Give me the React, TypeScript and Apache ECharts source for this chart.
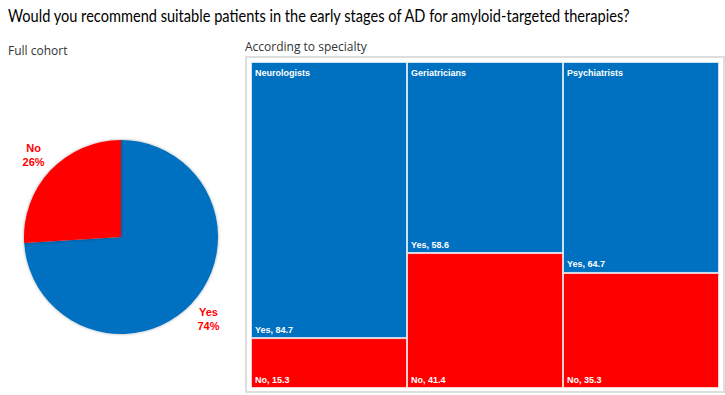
import React, { useEffect, useRef } from "react";
import * as echarts from "echarts";

const TITLE = "Would you recommend suitable patients in the early stages of AD for amyloid-targeted therapies?";
const pieNames = ["Yes", "No"];
const pieValues = [74, 26];
const specialties = ["Neurologists", "Geriatricians", "Psychiatrists"];
const yesValues = [84.7, 58.6, 64.7];
const noValues = [15.3, 41.4, 35.3];

const BLUE = "#0070C0";
const RED = "#FF0000";
const FONT = "'Liberation Sans', Arial, sans-serif";
const TITLE_FONT = "18px Lato, 'Liberation Sans', sans-serif";

function titleScale(): number {
  try {
    const c = document.createElement("canvas");
    const ctx = c.getContext("2d");
    if (!ctx) return 1;
    ctx.font = TITLE_FONT;
    const w = ctx.measureText(TITLE).width;
    return w > 0 ? 624 / w : 1;
  } catch (e) {
    return 1;
  }
}

export default function App() {
  const ref = useRef<HTMLDivElement>(null);
  useEffect(() => {
    if (!ref.current) return;
    const chart = echarts.init(ref.current, undefined, { renderer: "svg" });
    const pieData = pieNames.map((n, i) => ({
      name: n,
      value: pieValues[i],
      itemStyle: { color: i === 0 ? BLUE : RED },
    }));
    const s = titleScale();
    chart.setOption({
      animation: false,
      backgroundColor: "#ffffff",
      textStyle: { fontFamily: FONT },
      title: [
        {
          text: "Full cohort",
          left: 3,
          top: 39,
          textStyle: { fontFamily: "'Open Sans', sans-serif", fontSize: 12, fontWeight: "normal", color: "#333" },
        },
        {
          text: "According to specialty",
          left: 240,
          top: 35,
          textStyle: { fontFamily: "'Open Sans', sans-serif", fontSize: 12, fontWeight: "normal", color: "#333" },
        },
      ],
      graphic: [
        {
          type: "text",
          x: 8,
          y: 15,
          scaleX: s,
          style: {
            text: TITLE,
            font: TITLE_FONT,
            fill: "#000",
            textVerticalAlign: "middle",
          },
        },
        {
          type: "rect",
          shape: { x: 246, y: 57, width: 478, height: 335 },
          style: { fill: "none", stroke: "#dedede", lineWidth: 2 },
          z: 0,
        },
      ],
      grid: { left: 251, top: 62, width: 468, height: 326 },
      xAxis: {
        type: "category",
        data: specialties,
        show: false,
      },
      yAxis: { type: "value", min: 0, max: 100, show: false },
      series: [
        {
          type: "pie",
          center: [121, 237],
          radius: [0, 97],
          startAngle: 90,
          clockwise: true,
          data: pieData,
          label: { show: false },
          labelLine: { show: false },
          itemStyle: { shadowBlur: 3, shadowColor: "rgba(0,0,0,0.35)" },
          silent: true,
        },
        {
          type: "pie",
          center: [121, 237],
          radius: [97, 137],
          startAngle: 90,
          clockwise: true,
          data: pieData.map((d) => ({ ...d, itemStyle: { color: "rgba(0,0,0,0)" } })),
          label: {
            show: true,
            position: "inside",
            formatter: "{b}\n{c}%",
            color: RED,
            fontWeight: "bold",
            fontSize: 11,
            lineHeight: 14,
            fontFamily: FONT,
          },
          labelLine: { show: false },
          silent: true,
        },
        {
          type: "bar",
          name: "No",
          stack: "s",
          data: noValues,
          barWidth: "100%",
          barCategoryGap: "0%",
          itemStyle: { color: RED, borderColor: "rgba(255,255,255,0.6)", borderWidth: 1 },
          label: {
            show: true,
            position: "insideBottomLeft",
            distance: 4,
            formatter: (p: any) => "No, " + p.value,
            color: "#fff",
            fontWeight: "bold",
            fontSize: 9,
            fontFamily: FONT,
          },
        },
        {
          type: "bar",
          name: "Yes",
          stack: "s",
          data: yesValues,
          barWidth: "100%",
          barCategoryGap: "0%",
          itemStyle: { color: BLUE, borderColor: "rgba(255,255,255,0.6)", borderWidth: 1 },
          label: {
            show: true,
            position: "insideBottomLeft",
            distance: 4,
            formatter: (p: any) => "Yes, " + p.value,
            color: "#fff",
            fontWeight: "bold",
            fontSize: 9,
            fontFamily: FONT,
          },
        },
        {
          type: "custom",
          data: specialties.map((sp, i) => [i, 100]),
          renderItem: (params: any, api: any) => {
            const pt = api.coord([api.value(0), api.value(1)]);
            const w = api.size([1, 0])[0];
            return {
              type: "text",
              x: pt[0] - w / 2 + 4,
              y: pt[1] + 6,
              style: {
                text: specialties[params.dataIndex],
                fill: "#fff",
                font: "bold 9px " + FONT,
                textAlign: "left",
                textVerticalAlign: "top",
              },
            };
          },
          z: 10,
          silent: true,
        },
      ],
    });
    return () => chart.dispose();
  }, []);
  return (
    <div
      ref={ref}
      style={{ position: "absolute", left: 0, top: 0, width: 725, height: 395 }}
    />
  );
}
